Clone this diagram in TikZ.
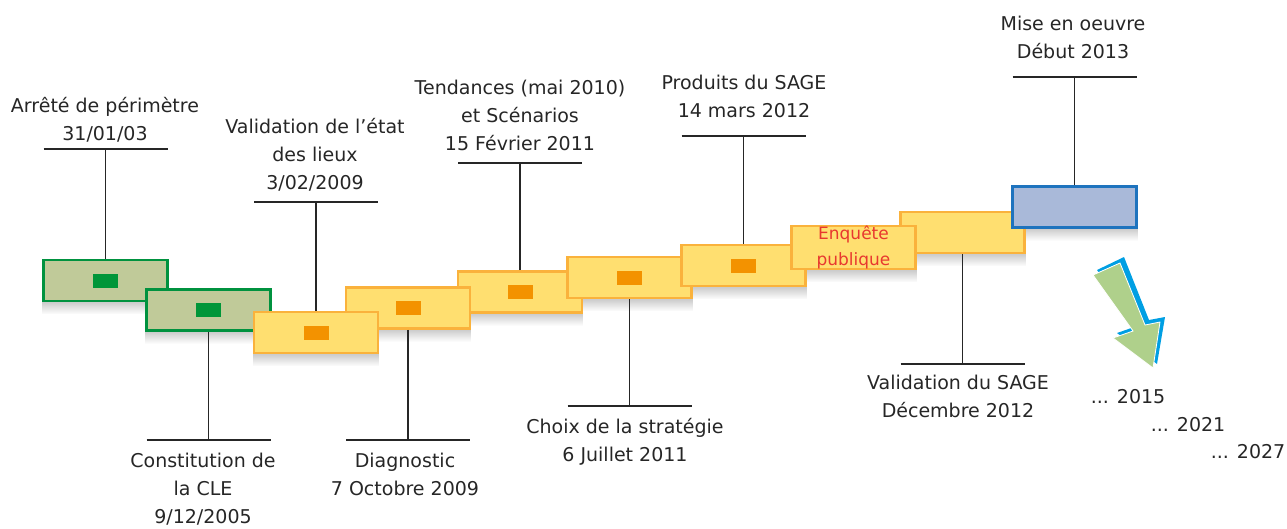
\documentclass[tikz,border=0pt]{standalone}
\usepackage{fontspec}
\setmainfont{DejaVu Sans}
\usetikzlibrary{fadings,backgrounds}
\definecolor{greenfill}{RGB}{192,202,153}
\definecolor{greenline}{RGB}{0,146,63}
\definecolor{greenchip}{RGB}{0,150,57}
\definecolor{yellowfill}{RGB}{255,223,112}
\definecolor{yellowline}{RGB}{250,178,60}
\definecolor{orangechip}{RGB}{243,146,0}
\definecolor{bluefill}{RGB}{169,185,217}
\definecolor{blueline}{RGB}{30,115,190}
\definecolor{arrowblue}{RGB}{0,159,227}
\definecolor{arrowgreen}{RGB}{175,208,139}
\definecolor{enqred}{RGB}{232,56,47}
\tikzfading[name=shadowfade,top color=transparent!0,bottom color=transparent!100]

\begin{document}
\begin{tikzpicture}[x=1pt,y=-1pt,
  every node/.style={inner sep=0pt},
  lbl/.style={align=center,text=black!85,font=\fontsize{19}{28}\selectfont},
  stage/.style={draw,line width=2.6pt,minimum width=124pt,minimum height=41pt},
  greenbox/.style={stage,draw=greenline,fill=greenfill},
  yellowbox/.style={stage,draw=yellowline,fill=yellowfill},
  bluebox/.style={stage,draw=blueline,fill=bluefill},
  chip/.style={minimum width=25pt,minimum height=14pt},
  stem/.style={line width=1.3pt,black!85},
  shadowfill/.style={fill=black,opacity=.2,path fading=shadowfade}]
  \useasboundingbox (0,0) rectangle (1287,528);
  % stages
  \node[greenbox] (b1) at (105.5,280.5) {};
  \node[chip,fill=greenchip] (c1) at (b1) {};
  \node[greenbox] (b2) at (208.5,310) {};
  \node[chip,fill=greenchip] (c2) at (b2) {};
  \node[yellowbox] (b5) at (520,292) {};
  \node[chip,fill=orangechip] (c5) at (b5) {};
  \node[yellowbox] (b4) at (408,308) {};
  \node[chip,fill=orangechip] (c4) at (b4) {};
  \node[yellowbox] (b3) at (316,332.5) {};
  \node[chip,fill=orangechip] (c3) at (b3) {};
  \node[yellowbox] (b6) at (629.5,277.5) {};
  \node[chip,fill=orangechip] (c6) at (b6) {};
  \node[yellowbox] (b7) at (743.5,265.5) {};
  \node[chip,fill=orangechip] (c7) at (b7) {};
  \node[yellowbox] (b9) at (962.5,232.5) {};
  \node[yellowbox,align=center,text=enqred,font=\fontsize{17}{26}\selectfont] (b8) at (853.5,247.5) {Enquête\\publique};
  \node[bluebox] (b10) at (1074.5,207) {};
  \begin{scope}[on background layer]
    \foreach \i in {1,...,10}
      \fill[shadowfill] (b\i.south west) rectangle ([yshift=-12pt]b\i.south east);
  \end{scope}
  % dates above
  \coordinate (t1) at (105.5,149);
  \coordinate (t3) at (316,202);
  \coordinate (t5) at (520,163);
  \coordinate (t7) at (743.5,136);
  \coordinate (t10) at (1074.5,77);
  \foreach \i in {1,3,5,7,10}{
    \draw[stem] (b\i.north) -- (t\i);
    \draw[stem] ([xshift=-62pt]t\i) -- ([xshift=62pt]t\i);
  }
  \node[lbl,anchor=south] (l1) at (105,142) {Arrêté de périmètre\\31/01/03};
  \node[lbl,anchor=south] (l3) at (315,191) {Validation de l'état\\des lieux\\3/02/2009};
  \node[lbl,anchor=south] (l5) at (520,151) {Tendances (mai 2010)\\et Scénarios\\15 Février 2011};
  \node[lbl,anchor=south] (l7) at (744,118) {Produits du SAGE\\14 mars 2012};
  \node[lbl,anchor=south] (l10) at (1073,59) {Mise en oeuvre\\Début 2013};
  % dates below
  \coordinate (t2) at (208.5,440);
  \coordinate (t4) at (408,440);
  \coordinate (t6) at (629.5,406);
  \coordinate (t9) at (962.5,364);
  \foreach \i in {2,4,6,9}{
    \draw[stem] (b\i.south) -- (t\i);
    \draw[stem] ([xshift=-62pt]t\i) -- ([xshift=62pt]t\i);
  }
  \node[lbl,anchor=north] (l2) at (203,453) {Constitution de\\la CLE\\9/12/2005};
  \node[lbl,anchor=north] (l4) at (405,453) {Diagnostic\\7 Octobre 2009};
  \node[lbl,anchor=north] (l6) at (625,418) {Choix de la stratégie\\6 Juillet 2011};
  \node[lbl,anchor=north] (l9) at (958,375) {Validation du SAGE\\Décembre 2012};
  % arrow and horizons
  \fill[arrowblue] (1097,270) -- (1124,257) -- (1149,320) -- (1165,317) -- (1157,364)
    -- (1117,333) -- (1137,326) -- cycle;
  \filldraw[arrowgreen,draw=white,line width=.8pt] (1093,275) -- (1120,263) -- (1145,325)
    -- (1160,322) -- (1153,368) -- (1113,338) -- (1133,331) -- cycle;
  \node[lbl] (y15) at (1128,397) {... 2015};
  \node[lbl] (y21) at (1188,425) {... 2021};
  \node[lbl] (y27) at (1248,452) {... 2027};
\end{tikzpicture}
\end{document}
